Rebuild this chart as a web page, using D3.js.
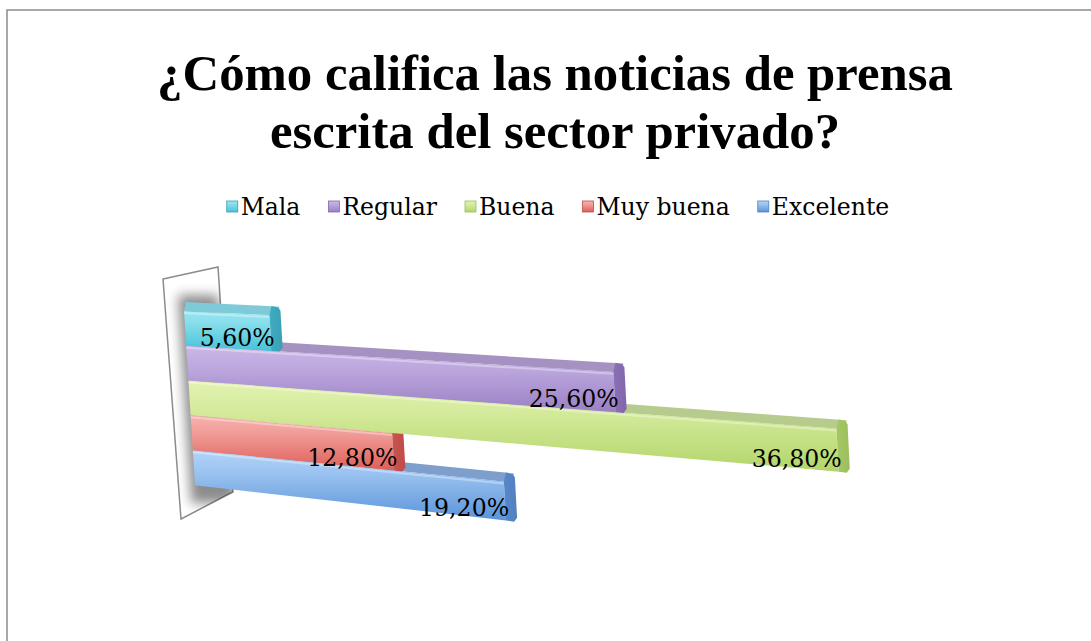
<!DOCTYPE html>
<html><head><meta charset="utf-8">
<script src="https://cdn.jsdelivr.net/npm/d3@7"></script>
<style>html,body{margin:0;padding:0;background:#fff;} svg{display:block;}</style>
</head><body>
<svg id="chart" width="1091" height="641"></svg>
<script>
// ---- data ----
const titleLines = ["¿Cómo califica las noticias de prensa", "escrita del sector privado?"];
const categories = ["Mala", "Regular", "Buena", "Muy buena", "Excelente"];
const values = [5.6, 25.6, 36.8, 12.8, 19.2];
const valueLabels = ["5,60%", "25,60%", "36,80%", "12,80%", "19,20%"];

// ---- styles ----
const frontTop = ["#9BE6F2", "#CBB8E8", "#E2F3B0", "#F7B3AF", "#B3D5F8"];
const frontBot = ["#47C3D8", "#9A80C4", "#B2D56A", "#DE5E58", "#5A93DA"];
const topFace = ["#7FCAD8", "#A592C3", "#B7CB8E", "#D98A86", "#7E9ECB"];
const capCol = ["#3A9FB4", "#8166AC", "#9CBE5E", "#BE4C47", "#5380BF"];
const fontFam = "'DejaVu Serif', 'Liberation Serif', serif";
const titleFam = "'Liberation Serif', 'DejaVu Serif', serif";

const svg = d3.select("#chart");
const defs = svg.append("defs");

categories.forEach((c, i) => {
  const g = defs.append("linearGradient").attr("id", "fg" + i).attr("x1", 0).attr("y1", 0).attr("x2", 0).attr("y2", 1);
  g.append("stop").attr("offset", "0%").attr("stop-color", frontTop[i]);
  g.append("stop").attr("offset", "35%").attr("stop-color", d3.interpolateRgb(frontTop[i], frontBot[i])(0.3));
  g.append("stop").attr("offset", "100%").attr("stop-color", frontBot[i]);
  const cg = defs.append("linearGradient").attr("id", "cg" + i).attr("x1", 0).attr("y1", 0).attr("x2", 1).attr("y2", 0);
  cg.append("stop").attr("offset", "0%").attr("stop-color", d3.interpolateRgb(frontBot[i], capCol[i])(0.6));
  cg.append("stop").attr("offset", "100%").attr("stop-color", capCol[i]);
});
defs.append("filter").attr("id", "blur").attr("x", "-50%").attr("y", "-50%").attr("width", "200%").attr("height", "200%")
  .append("feGaussianBlur").attr("stdDeviation", 6);

// ---- frame ----
svg.append("path").attr("d", "M7,641 L7,10 L1091,10").attr("fill", "none").attr("stroke", "#8c8c8c").attr("stroke-width", 1.5);

// ---- title ----
const tg = svg.append("g").style("font-family", titleFam).style("font-weight", "bold").attr("fill", "#000");
const t1 = tg.append("text").attr("x", 555).attr("y", 90).attr("text-anchor", "middle").style("font-size", "48px").text(titleLines[0]);
const tfs = 48 * 796 / t1.node().getComputedTextLength();
t1.style("font-size", tfs + "px");
tg.append("text").attr("x", 555).attr("y", 148).attr("text-anchor", "middle").style("font-size", tfs + "px").text(titleLines[1]);

// ---- legend ----
const lg = svg.append("g").style("font-family", fontFam);
let lfs = 24;
const tmp = categories.map(c => lg.append("text").style("font-size", lfs + "px").text(c));
const totalW = d3.sum(tmp, t => t.node().getComputedTextLength());
tmp.forEach(t => t.remove());
lfs = lfs * 481 / totalW;
const items = categories.map(c => {
  const t = lg.append("text").style("font-size", lfs + "px").attr("y", 215).attr("fill", "#000").text(c);
  return {t, w: t.node().getComputedTextLength()};
});
const markerW = 12, gapT = 2, gapItem = 28;
const legendW = d3.sum(items, d => markerW + gapT + d.w) + gapItem * (items.length - 1);
let lx = 558 - legendW / 2;
items.forEach((d, i) => {
  lg.append("rect").attr("x", lx).attr("y", 201).attr("width", 11).attr("height", 11).attr("fill", "url(#fg" + i + ")")
    .attr("stroke", capCol[i]).attr("stroke-width", 0.8);
  d.t.attr("x", lx + markerW + gapT);
  lx += markerW + gapT + d.w + gapItem;
});

// ---- 3D bar geometry via scales ----
const vScale = d3.scaleBand().domain(categories).range([0, 1]).padding(0);
const xScale = d3.scaleLinear().domain([0, 40]).range([0, 596]);   // world units along the value axis
const persp = 3560;                                                 // foreshortening distance
function PX(x, v) { // point on the front plane at screen x, band position v
  const yTop = 311 + 0.048 * (x - 184);
  const H = 173 + 0.065 * (x - 184);
  return [x, yTop + v * H];
}
function P(val, v) {
  const u = xScale(val);
  return PX(184 + 11 * v + u / (1 - u / persp), v);
}
const depth = [2, -9];
const capW = 11;
const add = (p, d) => [p[0] + d[0], p[1] + d[1]];
const line = d3.line();

// wall
const wallPts = [[163, 279], [218, 267], [233, 492], [181, 519]];
defs.append("clipPath").attr("id", "wallClip").append("path").attr("d", line(wallPts) + "Z");
svg.append("path").attr("d", line(wallPts) + "Z").attr("fill", "#fff").attr("stroke", "#8c8c8c").attr("stroke-width", 1.5);
const s0 = P(0, 0), s1 = P(0, 1);
svg.append("g").attr("clip-path", "url(#wallClip)").append("path")
  .attr("d", line([[s0[0] - 6, s0[1] - 16], [s0[0] + 34, s0[1] - 16], [s1[0] + 42, s1[1] + 18], [s1[0] - 4, s1[1] + 18]]) + "Z")
  .attr("fill", "#000").attr("opacity", 0.45).attr("filter", "url(#blur)");

// bars, drawn from bottom to top
const bars = svg.append("g");
const order = d3.range(categories.length).reverse();
const ends = [];
order.forEach(i => {
  const c = categories[i], val = values[i];
  const v0 = vScale(c), v1 = v0 + vScale.bandwidth();
  const g = bars.append("g");
  const tA = P(0, v0), tB = P(val, v0);
  const fB = P(val, v1), fA = P(0, v1);
  const E0 = PX(tB[0] + capW, v0), E1 = PX(fB[0] + capW, v1);
  ends[i] = E1;
  // top face
  g.append("path").attr("d", line([tA, [E0[0] - 3, E0[1]], [E0[0] - 3 + depth[0], E0[1] + depth[1]], add(tA, depth)]) + "Z")
    .attr("fill", topFace[i]);
  // front face
  g.append("path").attr("d", line([tA, tB, fB, fA]) + "Z").attr("fill", "url(#fg" + i + ")");
  g.append("path").attr("d", line([add(tA, [0, 2]), add(tB, [0, 2])])).attr("stroke", "#fff").attr("stroke-opacity", 0.35).attr("stroke-width", 2);
  // end cap (bevel)
  const cap = [tB, add(tB, depth), [E0[0] - 2, E0[1] + depth[1] + 1], [E0[0], E0[1] + depth[1] + 4],
               [E1[0], E1[1] - 4], [E1[0] - 3, E1[1]], fB];
  g.append("path").attr("d", line(cap) + "Z").attr("fill", "url(#cg" + i + ")");
});

// value labels
const lab = svg.append("g").style("font-family", fontFam).attr("fill", "#000");
const probe = lab.append("text").style("font-size", "22px").text(valueLabels[1]);
const labFs = 22 * 90 / probe.node().getComputedTextLength();
probe.remove();
categories.forEach((c, i) => {
  const E1 = ends[i];
  lab.append("text").style("font-size", labFs + "px").attr("x", E1[0] - 8).attr("y", E1[1] - 6).attr("text-anchor", "end").text(valueLabels[i]);
});
</script>
</body></html>
